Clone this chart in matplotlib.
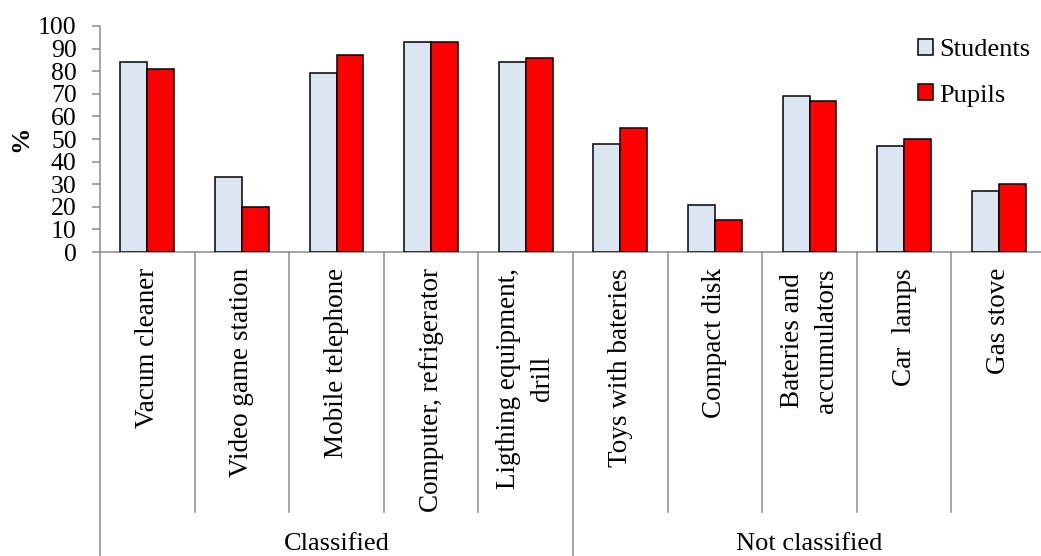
import matplotlib
matplotlib.use("Agg")
import matplotlib.pyplot as plt
from matplotlib.patches import Patch
import numpy as np

categories = ["Vacum cleaner", "Video game station", "Mobile telephone",
              "Computer, refrigerator", "Ligthing equipment,\ndrill",
              "Toys with bateries", "Compact disk", "Bateries and\naccumulators",
              "Car  lamps", "Gas stove"]
groups = ["Classified", "Not classified"]
group_sizes = [5, 5]
students = [84, 33, 79, 93, 84, 48, 21, 69, 47, 27]
pupils = [81, 20, 87, 93, 86, 55, 14, 67, 50, 30]
yticks = [0, 10, 20, 30, 40, 50, 60, 70, 80, 90, 100]

plt.rcParams['font.family'] = ['Liberation Serif', 'DejaVu Serif']

W, H = 1041, 556
fig = plt.figure(figsize=(W / 100, H / 100), dpi=100)
x0, x1 = 100, 1046
y0, y1 = 252, 26
ax = fig.add_axes([x0 / W, 1 - y0 / H, (x1 - x0) / W, (y0 - y1) / H])

x = np.arange(len(categories))
bw = 0.285
gray = "#8c8c8c"
ax.bar(x - bw / 2, students, bw, color="#DCE6F2", edgecolor="black", linewidth=1.1, label="Students", zorder=3)
ax.bar(x + bw / 2, pupils, bw, color="#FF0000", edgecolor="black", linewidth=1.1, label="Pupils", zorder=3)

ax.set_xlim(-0.5, len(categories) - 0.5)
ax.set_ylim(0, 100)
ax.set_yticks(yticks)
ax.set_yticklabels([str(t) for t in yticks], fontsize=18.5)
ax.tick_params(axis='y', direction='out', length=5.8, width=1.1, color=gray, pad=11)
ax.set_xticks([])
for s in ["top", "right"]:
    ax.spines[s].set_visible(False)
for s in ["left", "bottom"]:
    ax.spines[s].set_color(gray)
    ax.spines[s].set_linewidth(1.1)
ax.set_ylabel("%", fontsize=19, fontweight="bold", labelpad=4)

trans = ax.get_xaxis_transform()
ax_h = y0 - y1
inner_bottom = (y0 - 512) / ax_h
outer_bottom = (y0 - 560) / ax_h

# separators
boundaries = np.arange(len(categories) + 1) - 0.5
group_edges = [0]
for g in group_sizes:
    group_edges.append(group_edges[-1] + g)
for i, b in enumerate(boundaries):
    bottom = outer_bottom if i in group_edges else inner_bottom
    ax.plot([b, b], [0, bottom], color=gray, linewidth=1.1, transform=trans, clip_on=False)

for xi, lab in zip(x, categories):
    ax.text(xi, (y0 - 268) / ax_h, lab, rotation=90, ha="center", va="top",
            multialignment="center", fontsize=19.5, transform=trans, linespacing=1.5)

for gi, g in enumerate(groups):
    c = (group_edges[gi] + group_edges[gi + 1] - 1) / 2
    ax.text(c, (y0 - 544) / ax_h, g, ha="center", va="center", fontsize=19, transform=trans)

handles = [Patch(facecolor="#DCE6F2", edgecolor="black", linewidth=1.1),
           Patch(facecolor="#FF0000", edgecolor="black", linewidth=1.1)]
fig.legend(handles, ["Students", "Pupils"], loc="upper left",
           bbox_to_anchor=(918 / W, 1 - 39 / H), frameon=False, fontsize=19,
           handlelength=0.55, handleheight=0.55, handletextpad=0.25,
           labelspacing=0.87, borderpad=0, borderaxespad=0)

fig.savefig("out.png", dpi=100)
